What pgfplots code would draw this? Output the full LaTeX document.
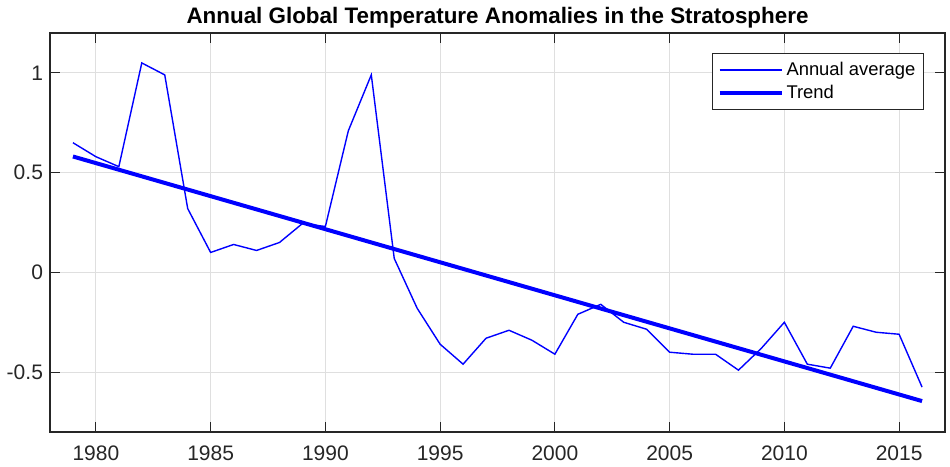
\documentclass[border=0pt]{standalone}
\usepackage{fontspec}
\setmainfont{Liberation Sans}
\usepackage{pgfplots}
\pgfplotsset{compat=1.18}
\definecolor{matblue}{RGB}{0,0,255}
\definecolor{axgray}{RGB}{38,38,38}

\begin{document}
\begin{tikzpicture}
\begin{axis}[
  name=ax,
  scale only axis,
  width=447.5pt, height=199.5pt,
  xmin=1978, xmax=2017, ymin=-0.8, ymax=1.2,
  xtick={1980,1985,...,2015},
  ytick={-0.5,0,0.5,1},
  tick align=inside,
  major tick length=5pt,
  axis line style={axgray, line width=0.6pt},
  tick style={axgray, line width=0.6pt},
  grid=major,
  grid style={gray!25, line width=0.5pt},
  title={Annual Global Temperature Anomalies in the Stratosphere},
  title style={font=\fontsize{11.2}{13}\selectfont\bfseries, yshift=-7pt},
  tick label style={font=\fontsize{10.5}{12}\selectfont, color=axgray},
  /pgf/number format/assume math mode=true,
  x tick label style={/pgf/number format/1000 sep={}, yshift=-3.5pt},
  legend cell align=left,
  legend image code/.code={\draw[#1] (3pt,0pt) -- (34pt,0pt);},
  legend style={at={(1,1)}, anchor=north east, xshift=-10.5pt, yshift=-10pt,
    draw=axgray, line width=0.6pt, font=\fontsize{9.2}{11}\selectfont,
    inner xsep=2.5pt, inner ysep=2.5pt, row sep=0pt,
    nodes={inner sep=1.5pt, text height=6.8pt, text depth=1.7pt}},
]
\addplot[matblue, line width=0.7pt] coordinates {
  (1979,0.65) (1980,0.58) (1981,0.53) (1982,1.05) (1983,0.99) (1984,0.32)
  (1985,0.10) (1986,0.14) (1987,0.11) (1988,0.15) (1989,0.245) (1990,0.23)
  (1991,0.71) (1992,0.99) (1993,0.07) (1994,-0.18) (1995,-0.36) (1996,-0.46)
  (1997,-0.33) (1998,-0.29) (1999,-0.34) (2000,-0.41) (2001,-0.21) (2002,-0.16)
  (2003,-0.25) (2004,-0.285) (2005,-0.40) (2006,-0.41) (2007,-0.41) (2008,-0.49)
  (2009,-0.38) (2010,-0.25) (2011,-0.46) (2012,-0.48) (2013,-0.27) (2014,-0.30)
  (2015,-0.31) (2016,-0.575)
};
\addplot[matblue, line width=2pt] coordinates {(1979,0.581) (2016,-0.645)};
\legend{Annual average, Trend}
\end{axis}
\pgfresetboundingbox
\path ([xshift=-25pt,yshift=-17pt]ax.south west) rectangle ([xshift=2.5pt,yshift=16.5pt]ax.north east);
\end{tikzpicture}
\end{document}
